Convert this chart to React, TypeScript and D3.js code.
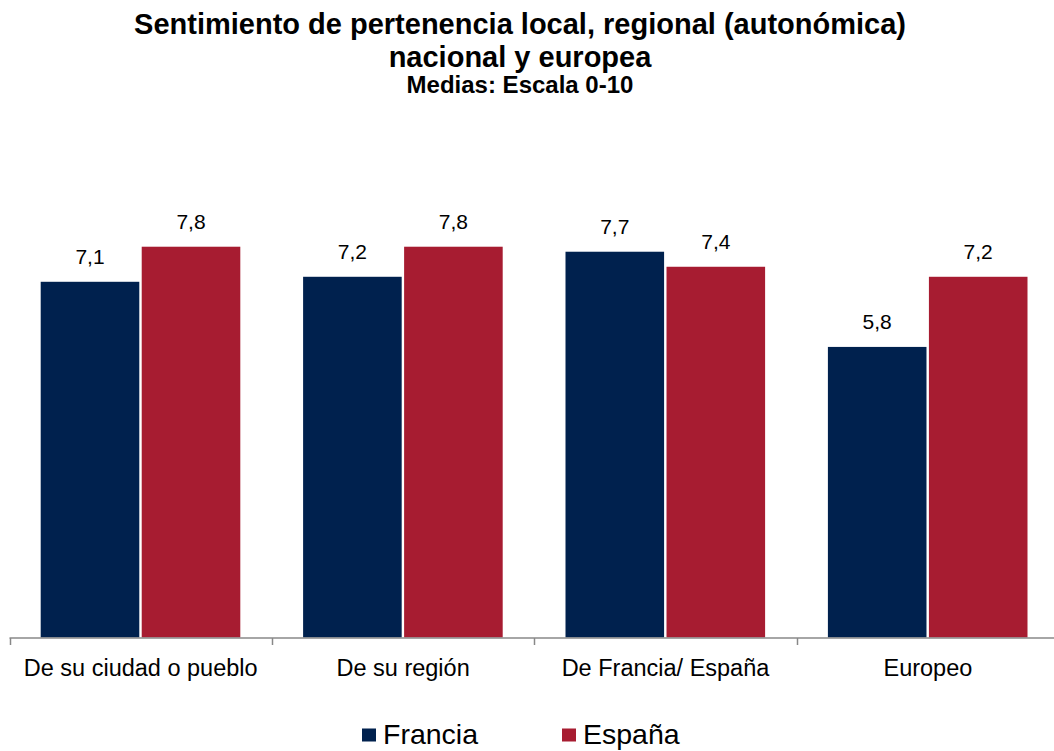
import React from "react";
import * as d3 from "d3";

const categories = ["De su ciudad o pueblo", "De su región", "De Francia/ España", "Europeo"];
const seriesNames = ["Francia", "España"];
const francia = [7.1, 7.2, 7.7, 5.8];
const espana = [7.8, 7.8, 7.4, 7.2];
const colors = ["#00214E", "#A71C31"];

const W = 1054;
const H = 751;
const font = "'Liberation Sans', Arial, sans-serif";

export default function App() {
  const x = d3.scaleBand<string>().domain(categories).range([9.5, 9.5 + 262.4 * 4]).paddingInner(0).paddingOuter(0);
  const inner = d3.scaleBand<string>().domain(seriesNames).range([31.2, 31.2 + 199.6]).paddingInner(0.024);
  const y = d3.scaleLinear().domain([0, 10]).range([637.5, 136.5]);
  const series = [francia, espana];
  const fmt = (v: number) => v.toFixed(1).replace(".", ",");

  return (
    <svg width={W} height={H} style={{ position: "absolute", left: 0, top: 0, background: "#fff" }}>
      <g fontFamily={font} textAnchor="middle" fontWeight="bold" fill="#000">
        <text x={520} y={33.5} fontSize={29}>Sentimiento de pertenencia local, regional (autonómica)</text>
        <text x={520} y={66.5} fontSize={29}>nacional y europea</text>
        <text x={520} y={92.5} fontSize={24}>Medias: Escala 0-10</text>
      </g>
      {categories.map((c, i) =>
        series.map((s, j) => {
          const bx = (x(c) as number) + (inner(seriesNames[j]) as number);
          const bw = inner.bandwidth();
          const v = s[i];
          return (
            <g key={c + j}>
              <rect x={bx} y={y(v)} width={bw} height={y(0) - y(v)} fill={colors[j]} />
              <text x={bx + bw / 2} y={y(v) - 17.5} fontFamily={font} fontSize={21} textAnchor="middle" fill="#000">
                {fmt(v)}
              </text>
            </g>
          );
        })
      )}
      <line x1={9.5} x2={W} y1={638} y2={638} stroke="#888" strokeWidth={1.5} />
      {[...categories.map((c) => x(c) as number), (x(categories[3]) as number) + x.bandwidth()].map((t, i) => (
        <line key={i} x1={Math.round(t) + 0.5} x2={Math.round(t) + 0.5} y1={638} y2={645} stroke="#888" strokeWidth={1.5} />
      ))}
      {categories.map((c) => (
        <text key={c} x={(x(c) as number) + x.bandwidth() / 2} y={676} fontFamily={font} fontSize={23.5} textAnchor="middle" fill="#000">
          {c}
        </text>
      ))}
      {seriesNames.map((n, j) => (
        <g key={n}>
          <rect x={362 + j * 200} y={728.5} width={14} height={13} fill={colors[j]} />
          <text x={383 + j * 200} y={743.5} fontFamily={font} fontSize={28.5} fill="#000">{n}</text>
        </g>
      ))}
    </svg>
  );
}
